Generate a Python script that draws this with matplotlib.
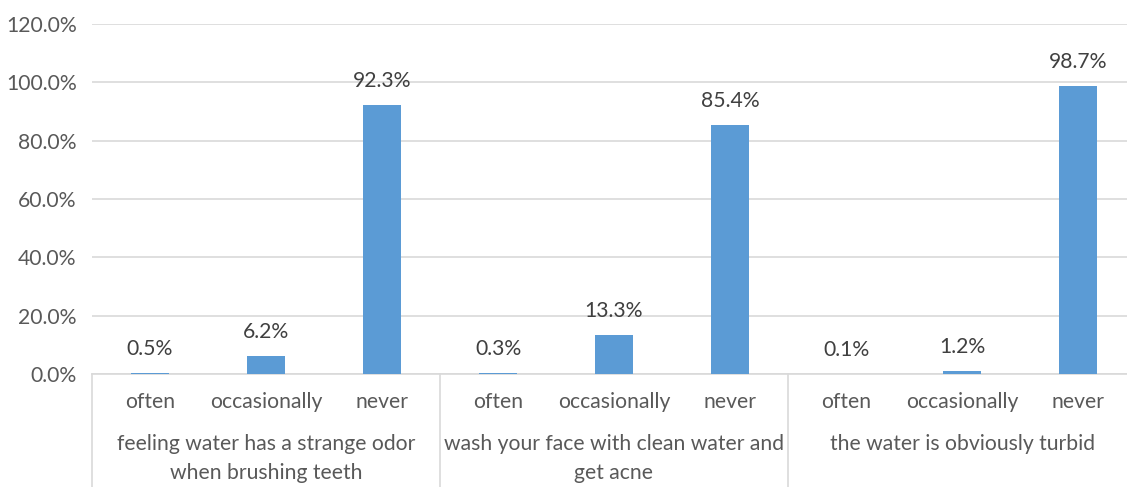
"""Grouped bar chart of how often respondents notice water quality problems."""

import matplotlib.pyplot as plt
import matplotlib.transforms as mtransforms
import numpy as np

plt.rcParams["font.family"] = ["Lato", "DejaVu Sans"]

# Survey data: three questions, three answer options each.
questions = [
    "feeling water has a strange odor\nwhen brushing teeth",
    "wash your face with clean water and\nget acne",
    "the water is obviously turbid",
]
answers = ["often", "occasionally", "never"]
odor_pct = [0.5, 6.2, 92.3]
acne_pct = [0.3, 13.3, 85.4]
turbid_pct = [0.1, 1.2, 98.7]
y_ticks = [0, 20, 40, 60, 80, 100, 120]

BAR_COLOR = "#5b9bd5"
GRID_COLOR = "#d9d9d9"
TEXT_COLOR = "#595959"
LABEL_COLOR = "#404040"
FONT_SIZE = 15.2

values = np.array(odor_pct + acne_pct + turbid_pct) / 100.0
x = np.arange(len(values))

W, H = 1127, 487
fig = plt.figure(figsize=(W / 100, H / 100), dpi=100)
left, right, top, bottom = 92, 1136, 24, 374
ax = fig.add_axes([left / W, 1 - bottom / H, (right - left) / W, (bottom - top) / H])

ax.bar(x, values, width=0.32, color=BAR_COLOR, zorder=3)
for xi, v in zip(x, values):
    ax.annotate(f"{v * 100:.1f}%", (xi, v), xytext=(0, 10),
                textcoords="offset points", ha="center", va="bottom",
                fontsize=FONT_SIZE, color=LABEL_COLOR)

ax.set_xlim(-0.5, len(values) - 0.5)
ax.set_ylim(0, 1.2)
ax.set_yticks(np.array(y_ticks) / 100.0)
ax.set_yticklabels([f"{t:.1f}%" for t in y_ticks])
ax.tick_params(axis="y", length=0, pad=11, labelsize=FONT_SIZE,
               labelcolor=TEXT_COLOR)
ax.set_xticks([])
ax.grid(axis="y", color=GRID_COLOR, linewidth=1.2, zorder=0)
for side in ("top", "right", "left"):
    ax.spines[side].set_visible(False)
ax.spines["bottom"].set_color(GRID_COLOR)
ax.spines["bottom"].set_linewidth(1.2)

# Multi-level category axis: group dividers, answer labels, question labels.
trans = mtransforms.blended_transform_factory(ax.transData, ax.transAxes)
axis_h = bottom - top
frac = lambda px: (bottom - px) / axis_h
for g in range(len(questions) + 1):
    xd = g * len(answers) - 0.5
    ax.plot([xd, xd], [0, frac(H + 5)], transform=trans, color=GRID_COLOR,
            linewidth=1.2, clip_on=False)
for i, xi in enumerate(x):
    ax.text(xi, frac(402), answers[i % len(answers)], transform=trans,
            ha="center", va="center", fontsize=FONT_SIZE, color=TEXT_COLOR)
for g, q in enumerate(questions):
    xc = g * len(answers) + (len(answers) - 1) / 2
    ax.text(xc, frac(434), q, transform=trans, ha="center", va="top",
            fontsize=FONT_SIZE, color=TEXT_COLOR, linespacing=1.55)

fig.savefig("out.png", dpi=100)
